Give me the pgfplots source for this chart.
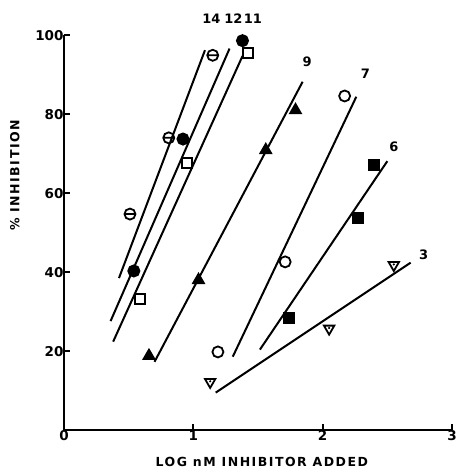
\documentclass[border=0pt]{standalone}
\usepackage{fontspec}
\setmainfont{DejaVu Sans}
\newfontfamily\labfont{DejaVu Sans}[LetterSpace=12]
\usepackage{pgfplots}
\pgfplotsset{compat=1.18}

% circle with a bar through it
\pgfdeclareplotmark{ominus}{%
  \pgfpathcircle{\pgfpointorigin}{\pgfplotmarksize}%
  \pgfpathmoveto{\pgfqpoint{-\pgfplotmarksize}{0pt}}%
  \pgfpathlineto{\pgfqpoint{\pgfplotmarksize}{0pt}}%
  \pgfusepathqstroke}
% open down triangle with a dot
\pgfdeclareplotmark{dtri}{%
  \pgfpathmoveto{\pgfqpoint{0pt}{-\pgfplotmarksize}}%
  \pgfpathlineto{\pgfqpoint{0.866\pgfplotmarksize}{0.5\pgfplotmarksize}}%
  \pgfpathlineto{\pgfqpoint{-0.866\pgfplotmarksize}{0.5\pgfplotmarksize}}%
  \pgfpathclose
  \pgfusepathqstroke
  \pgfpathcircle{\pgfqpoint{0pt}{0.1\pgfplotmarksize}}{0.2\pgfplotmarksize}%
  \pgfusepathqfill}

\begin{document}
\begin{tikzpicture}
\begin{axis}[
    scale only axis,
    width=388pt, height=395pt,
    xmin=0, xmax=3, ymin=0, ymax=100,
    axis lines=left,
    axis line style={-, line width=2.3pt},
    clip=false,
    xtick={0,1,2,3},
    ytick={20,40,60,80,100},
    tick align=inside,
    major tick length=6pt,
    tick style={line width=1.8pt, black},
    ticklabel style={font=\bfseries\fontsize{13.5}{13.5}\selectfont},
    /pgf/number format/assume math mode=true,
    xticklabel style={yshift=3pt},
    yticklabel style={xshift=3pt},
    every axis plot/.append style={line width=2pt, black},
    ]

% bounding frame matching the reference image
\path (axis cs:-0.495,-10.6) rectangle (axis cs:3.03,108.9);

% 14
\addplot[no marks] coordinates {(0.425,38.5) (1.09,96.2)};
\addplot[only marks, mark=ominus, mark size=5.5pt, mark options={line width=1.8pt}]
    coordinates {(0.51,54.7) (0.81,74.0) (1.15,94.9)};
% 12
\addplot[no marks] coordinates {(0.36,27.6) (1.28,96.6)};
\addplot[only marks, mark=*, mark size=5.5pt]
    coordinates {(0.54,40.3) (0.92,73.7) (1.38,98.6)};
% 11
\addplot[no marks] coordinates {(0.38,22.4) (1.38,94.7)};
\addplot[only marks, mark=square, mark size=5pt, mark options={line width=1.8pt, fill=white}]
    coordinates {(0.59,33.2) (0.95,67.6) (1.425,95.4)};
% 9
\addplot[no marks] coordinates {(0.70,17.3) (1.845,88.2)};
\addplot[only marks, mark=triangle*, mark size=6pt]
    coordinates {(0.657,18.8) (1.04,38.0) (1.56,70.9) (1.79,81.0)};
% 7
\addplot[no marks] coordinates {(1.305,18.6) (2.26,84.4)};
\addplot[only marks, mark=o, mark size=5.5pt, mark options={line width=1.8pt}]
    coordinates {(1.19,19.8) (1.71,42.6) (2.17,84.6)};
% 6
\addplot[no marks] coordinates {(1.515,20.4) (2.50,68.1)};
\addplot[only marks, mark=square*, mark size=5pt]
    coordinates {(1.74,28.3) (2.27,53.6) (2.40,67.1)};
% 3
\addplot[no marks] coordinates {(1.173,9.5) (2.68,42.4)};
\addplot[only marks, mark=dtri, mark size=6pt, mark options={line width=1.8pt}]
    coordinates {(1.13,12.2) (2.05,25.7) (2.55,41.8)};

% curve labels
\begin{scope}[every node/.style={font=\bfseries\fontsize{13}{13}\selectfont}]
\node at (axis cs:1.14,104.2) {14};
\node at (axis cs:1.31,104.2) {12};
\node at (axis cs:1.46,104.2) {11};
\node at (axis cs:1.88,93.2) {9};
\node at (axis cs:2.33,90.3) {7};
\node at (axis cs:2.55,71.7) {6};
\node at (axis cs:2.78,44.3) {3};
\end{scope}

% axis titles
\node[font=\labfont\bfseries\fontsize{12.5}{12.5}\selectfont] at (axis cs:1.53,-8.1) {LOG nM INHIBITOR ADDED};
\node[rotate=90, font=\labfont\bfseries\fontsize{12.5}{12.5}\selectfont] at (axis cs:-0.38,64.5) {\% INHIBITION};
\end{axis}
\end{tikzpicture}
\end{document}
